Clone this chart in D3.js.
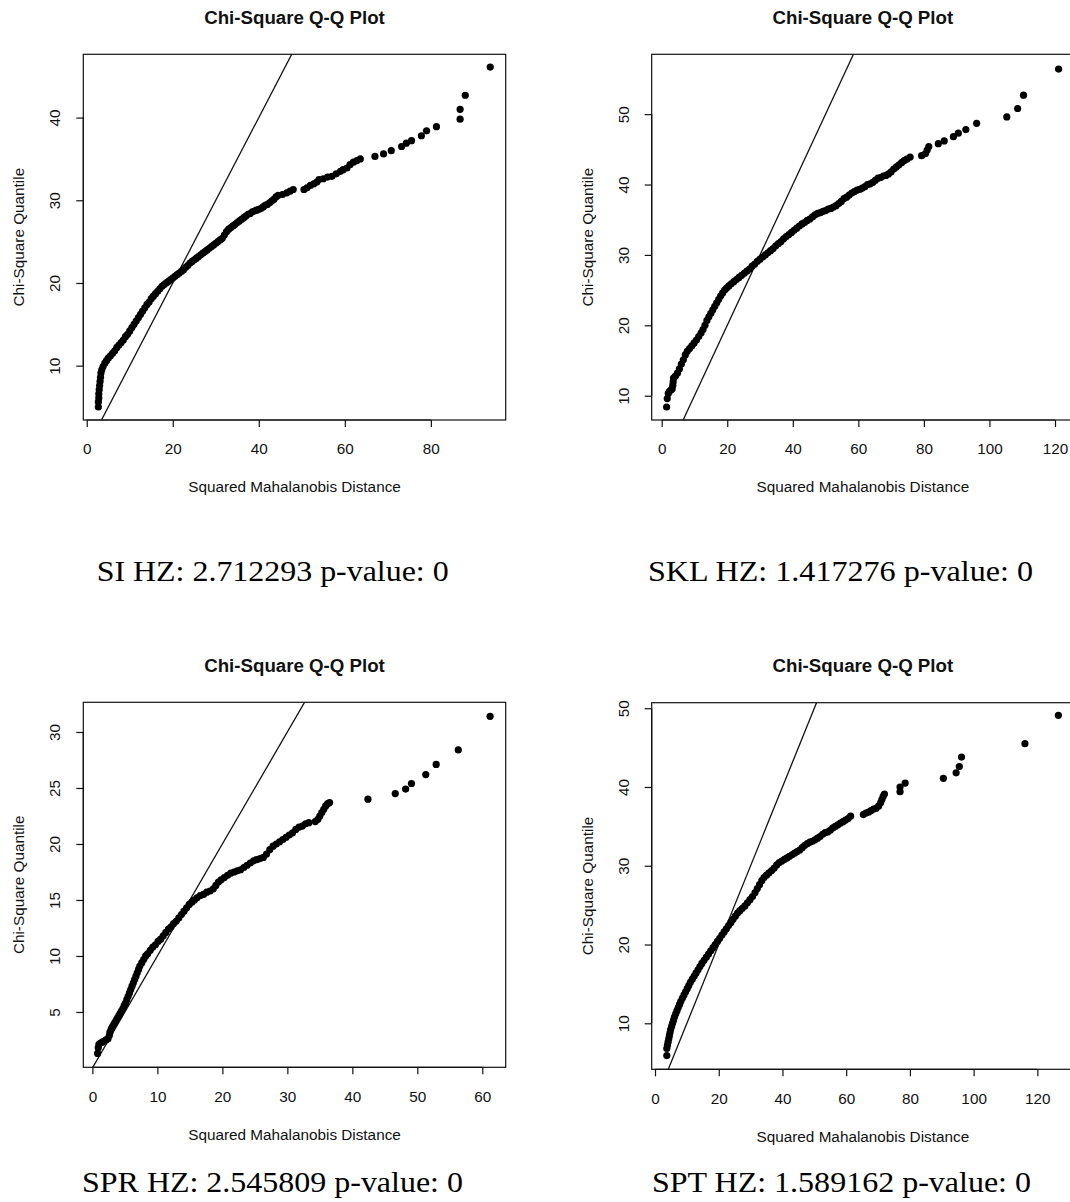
<!DOCTYPE html>
<html>
<head>
<meta charset="utf-8">
<script src="https://cdn.jsdelivr.net/npm/d3@7"></script>
<style>
  html, body { margin: 0; padding: 0; background: #fff; }
  svg { display: block; }
</style>
</head>
<body>
<div id="chart"></div>
<script>
// ---------------- DATA ----------------
const plotTitle = "Chi-Square Q-Q Plot";
const xAxisTitle = "Squared Mahalanobis Distance";
const yAxisTitle = "Chi-Square Quantile";

const captions = [
  "SI HZ: 2.712293 p-value: 0",
  "SKL HZ: 1.417276 p-value: 0",
  "SPR HZ: 2.545809 p-value: 0",
  "SPT HZ: 1.589162 p-value: 0"
];

// tick values per panel
const siXTicks = [0, 20, 40, 60, 80];
const siYTicks = [10, 20, 30, 40];
const sklXTicks = [0, 20, 40, 60, 80, 100, 120];
const sklYTicks = [10, 20, 30, 40, 50];
const sprXTicks = [0, 10, 20, 30, 40, 50, 60];
const sprYTicks = [5, 10, 15, 20, 25, 30];
const sptXTicks = [0, 20, 40, 60, 80, 100, 120];
const sptYTicks = [10, 20, 30, 40, 50];

// [squared Mahalanobis distance, chi-square quantile]
const siPoints = [
  [2.7,5.0],[2.7,5.6],[2.8,6.1],[2.8,6.6],[2.9,7.1],[3.0,7.6],[3.1,8.1],[3.2,8.6],[3.3,9.1],[3.5,9.5],
  [3.8,9.9],[4.2,10.3],[4.6,10.6],[5.0,10.9],[5.5,11.2],[6.0,11.5],[6.5,11.8],[7.0,12.2],[7.5,12.5],[8.0,12.8],
  [8.5,13.1],[9.0,13.5],[9.5,13.8],[10.0,14.2],[10.5,14.6],[11.0,15.0],[11.5,15.4],[12.0,15.8],[12.5,16.2],[13.0,16.6],
  [13.5,17.0],[14.0,17.4],[14.5,17.7],[15.0,18.1],[15.5,18.4],[16.0,18.7],[16.5,19.0],[17.0,19.3],[17.5,19.6],[18.0,19.8],
  [18.5,20.0],[19.0,20.2],[19.5,20.4],[20.0,20.6],[20.5,20.8],[21.0,21.0],[21.5,21.2],[22.0,21.4],[22.5,21.6],[23.0,21.9],
  [23.5,22.1],[24.0,22.4],[24.5,22.6],[25.0,22.8],[25.5,23.0],[26.0,23.2],[26.5,23.4],[27.0,23.6],[27.5,23.8],[28.0,24.0],
  [28.5,24.2],[29.0,24.4],[29.5,24.6],[30.0,24.8],[30.5,25.0],[31.0,25.2],[31.5,25.4],[32.0,25.8],[32.5,26.2],[33.0,26.5],
  [33.5,26.7],[34.0,26.9],[34.5,27.1],[35.0,27.3],[35.5,27.5],[36.0,27.7],[36.5,27.9],[37.0,28.1],[37.5,28.3],[38.0,28.4],
  [38.5,28.6],[39.0,28.7],[39.5,28.8],[40.0,28.9],[40.5,29.0],[41.0,29.2],[41.5,29.4],[42.0,29.5],[42.5,29.7],[43.0,29.9],
  [43.5,30.1],[44.0,30.4],[44.5,30.6],[45.5,30.7],[46.5,30.9],[47.3,31.1],[48.0,31.3],[50.5,31.3],[51.2,31.5],[52.0,31.8],
  [52.8,32.0],[53.5,32.2],[54.0,32.5],[55.0,32.6],[56.0,32.8],[57.0,32.9],[58.0,33.2],[59.0,33.5],[59.6,33.7],[60.5,33.9],
  [61.2,34.3],[62.0,34.6],[62.8,34.8],[63.6,35.0],[67.0,35.3],[69.0,35.6],[70.8,36.0],[73.2,36.5],[74.3,36.9],[75.5,37.2],
  [77.8,37.8],[79.0,38.4],[81.3,38.9],[86.8,39.8],[86.8,41.0],[88.0,42.7],[93.8,46.1]
];

const sklPoints = [
  [1.5,8.4],[1.7,9.6],[2.0,10.3],[2.3,10.6],[2.8,10.8],[3.2,11.0],[3.4,11.5],[3.5,12.0],[3.6,12.5],[4.2,12.8],
  [4.8,13.2],[5.4,13.8],[6.0,14.5],[6.6,15.1],[7.2,15.8],[7.8,16.3],[8.5,16.7],[9.2,17.1],[9.9,17.5],[10.6,17.9],
  [11.3,18.4],[12.0,18.9],[12.6,19.4],[13.2,20.0],[13.8,20.7],[14.4,21.2],[15.0,21.7],[15.6,22.2],[16.2,22.7],[16.8,23.2],
  [17.4,23.7],[18.0,24.2],[18.6,24.6],[19.2,25.0],[19.8,25.3],[20.5,25.6],[21.2,25.9],[22.0,26.2],[22.8,26.5],[23.6,26.8],
  [24.4,27.1],[25.2,27.4],[26.0,27.7],[26.8,28.0],[27.6,28.4],[28.4,28.7],[29.2,29.1],[30.0,29.4],[30.8,29.7],[31.6,30.0],
  [32.4,30.3],[33.2,30.6],[34.0,30.9],[34.8,31.3],[35.6,31.6],[36.4,31.9],[37.2,32.3],[38.0,32.6],[38.8,32.9],[39.6,33.2],
  [40.4,33.5],[41.2,33.8],[42.0,34.1],[42.8,34.4],[43.6,34.6],[44.4,34.9],[45.2,35.1],[46.0,35.4],[46.8,35.7],[47.6,35.9],
  [48.4,36.0],[49.2,36.2],[50.0,36.3],[50.8,36.5],[51.6,36.6],[52.4,36.8],[53.2,37.0],[54.0,37.3],[54.8,37.6],[55.6,38.0],
  [56.4,38.2],[57.2,38.5],[58.0,38.8],[58.8,39.0],[59.6,39.2],[60.4,39.3],[61.2,39.5],[62.0,39.7],[62.8,40.0],[63.6,40.1],
  [64.4,40.3],[65.2,40.6],[66.0,40.9],[66.8,41.0],[67.6,41.2],[68.4,41.3],[69.2,41.5],[70.0,41.8],[70.8,42.2],[71.6,42.5],
  [72.4,42.8],[73.2,43.1],[74.0,43.4],[74.8,43.6],[75.8,43.9],[79.3,44.1],[80.5,44.4],[81.0,44.9],[81.5,45.4],[84.4,45.8],
  [86.2,46.2],[89.0,46.8],[90.5,47.3],[92.8,47.8],[96.1,48.7],[105.3,49.6],[108.6,50.8],[110.4,52.7],[121.1,56.4]
];

const sprPoints = [
  [0.8,1.3],[0.9,1.8],[1.0,2.1],[1.2,2.2],[1.5,2.3],[1.8,2.4],[2.1,2.5],[2.4,2.6],[2.6,2.9],[2.7,3.2],
  [2.9,3.5],[3.1,3.7],[3.3,3.9],[3.5,4.1],[3.7,4.3],[3.9,4.5],[4.1,4.7],[4.3,4.9],[4.5,5.1],[4.7,5.3],
  [4.9,5.6],[5.1,5.8],[5.3,6.1],[5.5,6.4],[5.7,6.7],[5.9,7.0],[6.1,7.3],[6.3,7.6],[6.5,7.9],[6.7,8.2],
  [6.9,8.5],[7.1,8.8],[7.3,9.1],[7.6,9.4],[7.9,9.7],[8.2,10.0],[8.5,10.2],[8.9,10.5],[9.3,10.8],[9.7,11.0],
  [10.1,11.3],[10.5,11.5],[10.9,11.8],[11.3,12.1],[11.7,12.4],[12.1,12.6],[12.5,12.9],[12.9,13.1],[13.3,13.4],[13.7,13.7],
  [14.1,14.0],[14.5,14.3],[14.9,14.6],[15.3,14.8],[15.7,15.0],[16.1,15.2],[16.6,15.4],[17.1,15.5],[17.6,15.7],[18.1,15.8],
  [18.6,16.0],[19.0,16.3],[19.4,16.6],[19.8,16.8],[20.3,17.0],[20.8,17.2],[21.3,17.4],[21.8,17.5],[22.3,17.6],[22.8,17.7],
  [23.3,17.9],[23.8,18.1],[24.3,18.3],[24.8,18.5],[25.3,18.6],[25.8,18.7],[26.3,18.8],[26.8,19.1],[27.3,19.5],[27.8,19.8],
  [28.3,20.0],[28.8,20.2],[29.3,20.4],[29.8,20.6],[30.3,20.8],[30.8,21.0],[31.3,21.3],[31.8,21.5],[32.3,21.6],[32.8,21.8],
  [33.3,21.9],[34.3,22.0],[34.7,22.2],[35.0,22.5],[35.3,22.8],[35.6,23.1],[35.9,23.4],[36.2,23.6],[36.5,23.7],[42.4,24.0],
  [46.6,24.5],[48.2,24.9],[49.1,25.4],[51.3,26.2],[52.9,27.1],[56.3,28.4],[61.2,31.4]
];

const sptPoints = [
  [3.7,5.9],[3.7,6.8],[3.9,7.2],[4.1,7.6],[4.3,8.0],[4.5,8.4],[4.7,8.8],[4.9,9.2],[5.2,9.6],[5.5,10.0],
  [5.8,10.4],[6.1,10.8],[6.5,11.2],[6.9,11.6],[7.3,12.0],[7.7,12.4],[8.1,12.8],[8.6,13.2],[9.1,13.6],[9.6,14.0],
  [10.1,14.4],[10.6,14.8],[11.1,15.2],[11.7,15.6],[12.3,16.0],[12.9,16.4],[13.5,16.8],[14.1,17.2],[14.7,17.6],[15.4,18.0],
  [16.1,18.4],[16.8,18.8],[17.5,19.2],[18.2,19.6],[18.9,20.0],[19.6,20.4],[20.3,20.8],[21.0,21.2],[21.7,21.6],[22.4,22.0],
  [23.1,22.4],[23.8,22.8],[24.5,23.2],[25.2,23.6],[25.9,24.0],[26.6,24.3],[27.4,24.6],[28.2,24.9],[29.0,25.3],[29.8,25.7],
  [30.6,26.1],[31.4,26.6],[32.1,27.1],[32.8,27.6],[33.5,28.1],[34.2,28.5],[35.0,28.8],[35.8,29.1],[36.6,29.4],[37.4,29.7],
  [38.2,30.1],[39.0,30.4],[39.8,30.6],[40.6,30.8],[41.4,31.0],[42.2,31.2],[43.0,31.4],[43.8,31.6],[44.6,31.8],[45.4,32.0],
  [46.2,32.3],[47.0,32.6],[47.8,32.8],[48.6,33.0],[49.4,33.1],[50.2,33.3],[51.0,33.5],[51.8,33.7],[52.6,34.0],[53.4,34.2],
  [54.2,34.3],[55.0,34.5],[55.8,34.8],[56.6,35.0],[57.4,35.2],[58.2,35.4],[59.0,35.6],[59.8,35.8],[60.6,36.0],[61.4,36.3],
  [65.4,36.5],[66.2,36.7],[67.0,36.8],[67.8,37.0],[68.6,37.2],[69.4,37.3],[70.2,37.6],[70.8,38.0],[71.2,38.4],[71.6,38.8],
  [72.0,39.1],[76.9,39.4],[76.9,40.0],[78.5,40.5],[90.5,41.1],[94.5,41.8],[95.5,42.6],[96.2,43.8],[116.1,45.5],[126.6,49.1]
];

// ---------------- LAYOUT ----------------
const W = 1070, H = 1202;
const panels = [
  { pts: siPoints,  xt: siXTicks,  yt: siYTicks,  xd: [-0.8, 97.4],  yd: [3.43, 47.65], L: 83.3,  R: 505.7, T: 54.3,  B: 420.0,
    cap: captions[0], capX: 96.7, capY: 581, capW: 352 },
  { pts: sklPoints, xt: sklXTicks, yt: sklYTicks, xd: [-3.05, 125.8], yd: [6.55, 58.5], L: 651.7, R: 1074,  T: 54.3,  B: 420.0,
    cap: captions[1], capX: 648, capY: 581, capW: 385 },
  { pts: sprPoints, xt: sprXTicks, yt: sprYTicks, xd: [-1.4, 63.6],  yd: [0.06, 32.65], L: 83.3,  R: 505.7, T: 702.3, B: 1067.3,
    cap: captions[2], capX: 82, capY: 1192, capW: 381 },
  { pts: sptPoints, xt: sptXTicks, yt: sptYTicks, xd: [-1.04, 131.5], yd: [4.16, 50.7], L: 651.7, R: 1074,  T: 702.7, B: 1069.3,
    cap: captions[3], capX: 652, capY: 1192, capW: 379 }
];

const svg = d3.select("#chart").append("svg")
  .attr("width", W).attr("height", H)
  .attr("viewBox", `0 0 ${W} ${H}`);

const sans = "'Liberation Sans', Arial, sans-serif";
const serif = "'Liberation Serif', 'Times New Roman', serif";
const ink = "#111";

panels.forEach((p, i) => {
  const x = d3.scaleLinear().domain(p.xd).range([p.L, p.R]);
  const y = d3.scaleLinear().domain(p.yd).range([p.B, p.T]);
  const g = svg.append("g");

  const clipId = "clip" + i;
  svg.append("clipPath").attr("id", clipId)
    .append("rect").attr("x", p.L).attr("y", p.T).attr("width", p.R - p.L).attr("height", p.B - p.T);

  // y = x reference line
  const lo = Math.min(p.xd[0], p.yd[0]) - 5, hi = Math.max(p.xd[1], p.yd[1]) + 5;
  g.append("line")
    .attr("clip-path", `url(#${clipId})`)
    .attr("x1", x(lo)).attr("y1", y(lo)).attr("x2", x(hi)).attr("y2", y(hi))
    .attr("stroke", ink).attr("stroke-width", 1.3);

  // points
  g.append("g").attr("clip-path", `url(#${clipId})`)
    .selectAll("circle").data(p.pts).join("circle")
    .attr("cx", d => x(d[0])).attr("cy", d => y(d[1]))
    .attr("r", 3.6).attr("fill", "#000");

  // box
  g.append("rect").attr("x", p.L).attr("y", p.T)
    .attr("width", p.R - p.L).attr("height", p.B - p.T)
    .attr("fill", "none").attr("stroke", ink).attr("stroke-width", 1.2);

  // x axis
  const xAxis = d3.axisBottom(x).tickValues(p.xt).tickSize(7).tickPadding(0).tickFormat(d3.format("d"));
  const xg = g.append("g").attr("transform", `translate(0,${p.B})`).call(xAxis);
  xg.select(".domain").attr("d", `M${x(p.xt[0])},0H${x(p.xt[p.xt.length - 1])}`).attr("stroke", ink).attr("stroke-width", 1.2);
  xg.selectAll(".tick line").attr("stroke", ink).attr("stroke-width", 1.2);
  xg.selectAll(".tick text")
    .attr("y", 29).attr("dy", "0.35em")
    .attr("font-family", sans).attr("font-size", 15.3).attr("fill", ink);

  // y axis
  const yAxis = d3.axisLeft(y).tickValues(p.yt).tickSize(7).tickPadding(0).tickFormat(d3.format("d"));
  const yg = g.append("g").attr("transform", `translate(${p.L},0)`).call(yAxis);
  yg.select(".domain").attr("d", `M0,${y(p.yt[0])}V${y(p.yt[p.yt.length - 1])}`).attr("stroke", ink).attr("stroke-width", 1.2);
  yg.selectAll(".tick line").attr("stroke", ink).attr("stroke-width", 1.2);
  yg.selectAll(".tick text")
    .attr("x", null).attr("dy", null)
    .attr("transform", "translate(-28.5,0) rotate(-90)")
    .attr("text-anchor", "middle").attr("dy", "0.35em")
    .attr("font-family", sans).attr("font-size", 15.3).attr("fill", ink);

  // title
  g.append("text").text(plotTitle)
    .attr("x", (p.L + p.R) / 2).attr("y", p.T - 37).attr("dy", "0.35em")
    .attr("text-anchor", "middle").attr("font-family", sans)
    .attr("font-weight", "bold").attr("font-size", 18.7).attr("fill", ink);

  // axis titles
  g.append("text").text(xAxisTitle)
    .attr("x", (p.L + p.R) / 2).attr("y", p.B + 67).attr("dy", "0.35em")
    .attr("text-anchor", "middle").attr("font-family", sans)
    .attr("font-size", 15.3).attr("fill", ink);

  g.append("text").text(yAxisTitle)
    .attr("transform", `translate(${p.L - 64.5},${(p.T + p.B) / 2}) rotate(-90)`)
    .attr("dy", "0.35em")
    .attr("text-anchor", "middle").attr("font-family", sans)
    .attr("font-size", 15.3).attr("fill", ink);

  // caption below each plot
  svg.append("text").text(p.cap)
    .attr("x", p.capX).attr("y", p.capY)
    .attr("font-family", serif).attr("font-size", 29)
    .attr("textLength", p.capW).attr("lengthAdjust", "spacingAndGlyphs")
    .attr("fill", "#000");
});
</script>
</body>
</html>
